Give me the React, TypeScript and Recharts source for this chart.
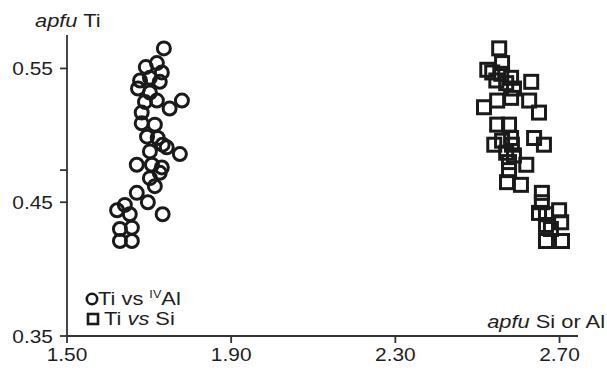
import React from "react";
import { ScatterChart, Scatter, XAxis, YAxis } from "recharts";

// Ti vs IVAl (circles)
const circleAl = [1.736, 1.692, 1.719, 1.731, 1.678, 1.702, 1.726, 1.673, 1.702, 1.69, 1.719, 1.78, 1.75, 1.682, 1.682, 1.714, 1.695, 1.721, 1.733, 1.702, 1.743, 1.775, 1.67, 1.707, 1.731, 1.726, 1.702, 1.714, 1.67, 1.697, 1.641, 1.622, 1.653, 1.733, 1.629, 1.658, 1.629, 1.658];
const circleTi = [0.565, 0.551, 0.554, 0.547, 0.541, 0.543, 0.54, 0.535, 0.532, 0.525, 0.526, 0.526, 0.52, 0.517, 0.509, 0.508, 0.499, 0.498, 0.493, 0.488, 0.491, 0.486, 0.478, 0.478, 0.476, 0.472, 0.468, 0.462, 0.457, 0.45, 0.448, 0.444, 0.441, 0.441, 0.43, 0.431, 0.421, 0.421];

// Ti vs Si (squares)
const squareSi = [2.553, 2.56, 2.524, 2.536, 2.558, 2.582, 2.546, 2.57, 2.631, 2.589, 2.582, 2.548, 2.516, 2.626, 2.65, 2.548, 2.577, 2.541, 2.56, 2.582, 2.638, 2.662, 2.57, 2.589, 2.577, 2.619, 2.577, 2.572, 2.606, 2.657, 2.657, 2.65, 2.667, 2.699, 2.667, 2.704, 2.679, 2.667, 2.706, 2.584];
const squareTi = [0.565, 0.554, 0.549, 0.547, 0.546, 0.543, 0.541, 0.539, 0.54, 0.535, 0.528, 0.526, 0.521, 0.526, 0.517, 0.508, 0.508, 0.493, 0.496, 0.498, 0.498, 0.493, 0.487, 0.485, 0.48, 0.478, 0.474, 0.465, 0.463, 0.457, 0.45, 0.442, 0.441, 0.444, 0.433, 0.435, 0.43, 0.421, 0.421, 0.493];

const xTicks = [1.5, 1.9, 2.3, 2.7];
const yTicks = [0.35, 0.45, 0.474, 0.55];
const yLabelled = [0.35, 0.45, 0.55];

const circleData = circleAl.map((x, i) => ({ x, y: circleTi[i] }));
const squareData = squareSi.map((x, i) => ({ x, y: squareTi[i] }));

const FONT = "'Liberation Sans', Arial, Helvetica, sans-serif";
const SX = 1.1;
const SXT = 1.15;
const INK = "#1a1a1a";
const AXIS = "#333";
const TXT = "#1e1e1e";

const CircleShape = (p: any) => (
  <circle cx={p.cx} cy={p.cy} r={6.5} fill="none" stroke={INK} strokeWidth={3} />
);
const SquareShape = (p: any) => (
  <rect x={p.cx - 6.5} y={p.cy - 6.5} width={13} height={13} fill="none" stroke={INK} strokeWidth={3} />
);

const XTick = (p: any) => {
  const v = p.payload.value;
  return (
    <g transform={`translate(${p.x},${p.y}) scale(${SX},1)`}>
      <text x={0} y={0} dy="0.75em" textAnchor="middle" fontFamily={FONT} fontSize={19} fill={TXT}>
        {v.toFixed(2)}
      </text>
    </g>
  );
};

const YTick = (p: any) => {
  const v = p.payload.value;
  if (!yLabelled.some((t) => Math.abs(t - v) < 1e-9)) return <g />;
  return (
    <g transform={`translate(${p.x},${p.y}) scale(${SX},1)`}>
      <text x={0} y={0} dy="0.36em" textAnchor="end" fontFamily={FONT} fontSize={19} fill={TXT}>
        {v.toFixed(2)}
      </text>
    </g>
  );
};

const ST = ({ x, y, anchor = "start", children }: any) => (
  <g transform={`translate(${x},${y}) scale(${SXT},1)`}>
    <text x={0} y={0} textAnchor={anchor} fontFamily={FONT} fontSize={19} fill={TXT}>
      {children}
    </text>
  </g>
);

export default function App() {
  return (
    <div style={{ position: "absolute", left: 0, top: 0, width: 607, height: 371, background: "#fff" }}>
      <ScatterChart width={607} height={371} margin={{ top: 35, right: 29, bottom: 0, left: 0 }}>
        <XAxis
          type="number"
          dataKey="x"
          domain={[1.5, 2.745]}
          ticks={xTicks}
          allowDataOverflow
          height={35}
          tickSize={7}
          tickMargin={4}
          axisLine={{ stroke: AXIS, strokeWidth: 1.8 }}
          tickLine={{ stroke: AXIS, strokeWidth: 1.8 }}
          tick={<XTick />}
        />
        <YAxis
          type="number"
          dataKey="y"
          domain={[0.35, 0.575]}
          ticks={yTicks}
          allowDataOverflow
          width={67}
          tickSize={7}
          tickMargin={7}
          axisLine={{ stroke: AXIS, strokeWidth: 1.8 }}
          tickLine={{ stroke: AXIS, strokeWidth: 1.8 }}
          tick={<YTick />}
        />
        <Scatter data={circleData} shape={<CircleShape />} isAnimationActive={false} />
        <Scatter data={squareData} shape={<SquareShape />} isAnimationActive={false} />
      </ScatterChart>
      <svg width={607} height={371} style={{ position: "absolute", left: 0, top: 0, pointerEvents: "none" }}>
        <ST x={35} y={27}>
          <tspan fontStyle="italic">apfu</tspan> Ti
        </ST>
        <ST x={605} y={328} anchor="end">
          <tspan fontStyle="italic">apfu</tspan> Si or Al
        </ST>
        <circle cx={92} cy={299} r={5.2} fill="none" stroke={INK} strokeWidth={2.6} />
        <ST x={98} y={305}>
          Ti vs <tspan fontSize={11} dy={-7}>IV</tspan>
          <tspan dy={7}>Al</tspan>
        </ST>
        <rect x={88} y={314} width={10} height={10} fill="none" stroke={INK} strokeWidth={2.6} />
        <ST x={104} y={325}>
          Ti <tspan fontStyle="italic">vs</tspan> Si
        </ST>
      </svg>
    </div>
  );
}
